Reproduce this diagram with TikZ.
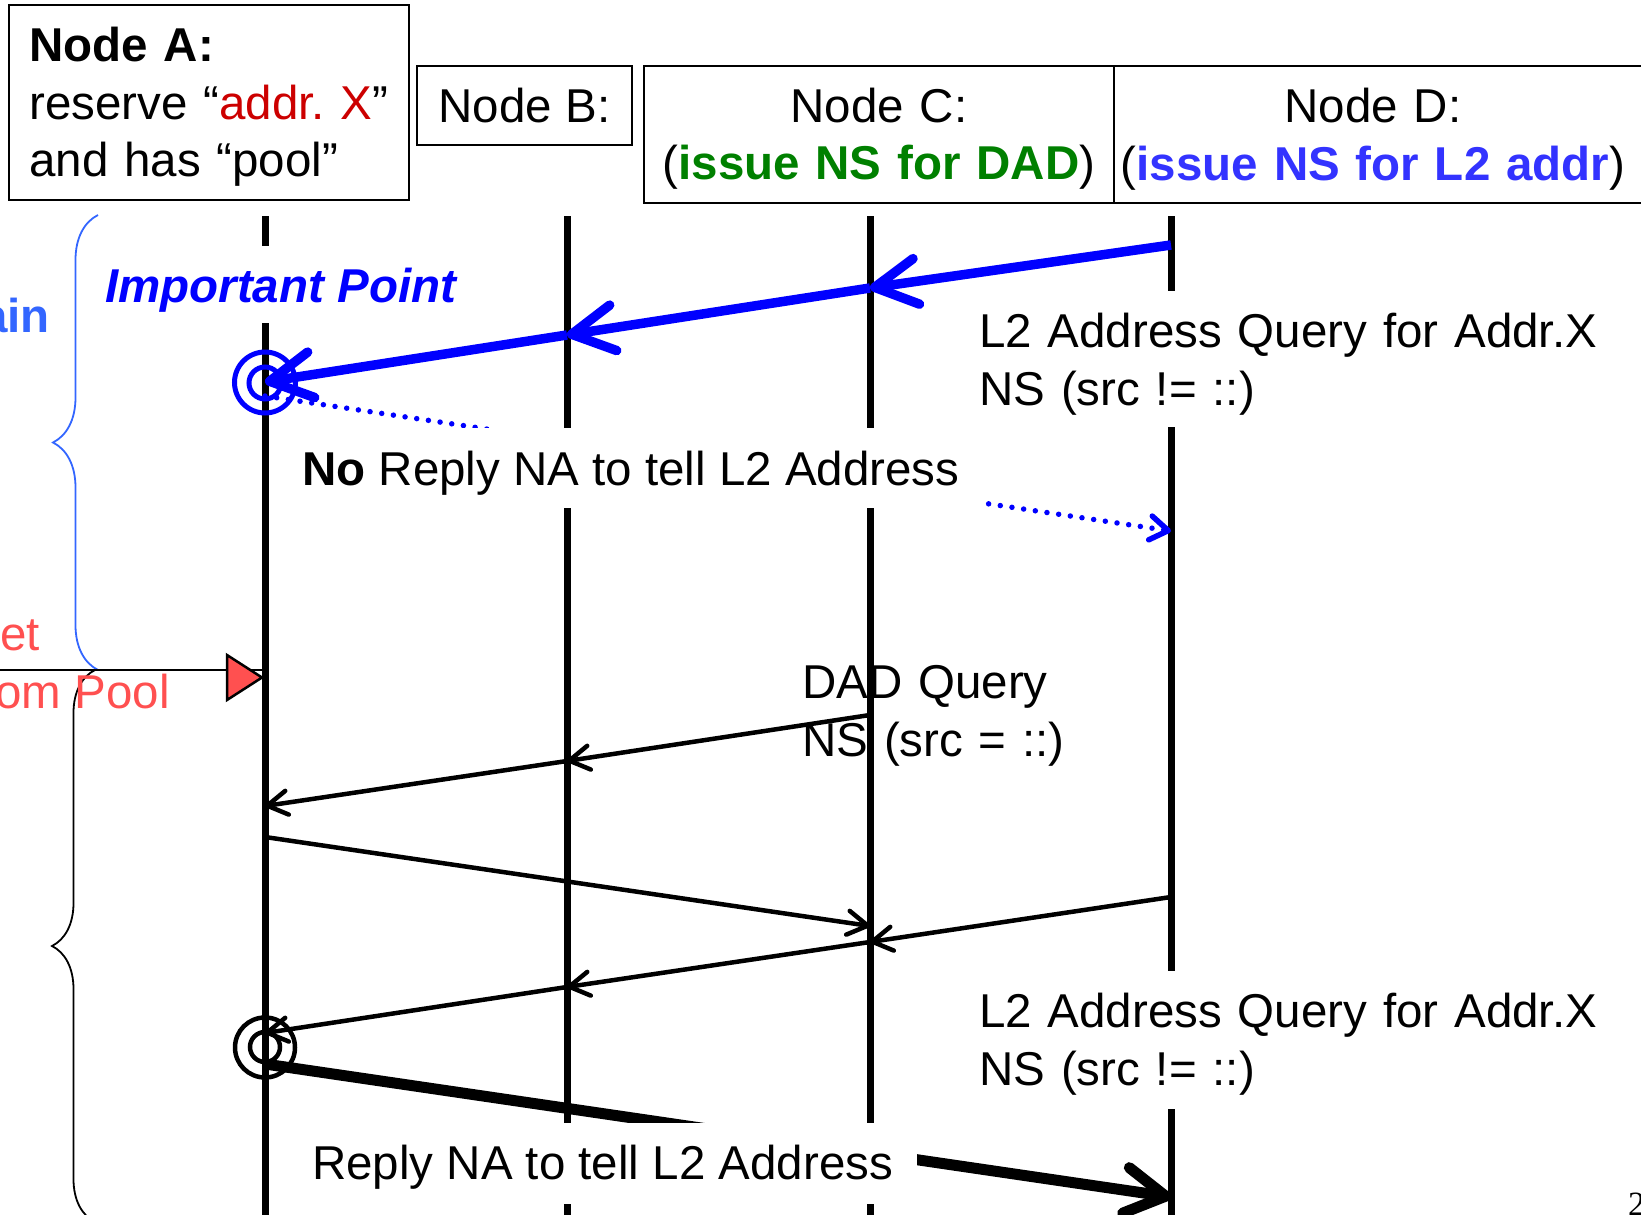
\documentclass[tikz,border=0pt]{standalone}
\usepackage{fontspec}
\setmainfont{Liberation Sans}
\newfontfamily\pagenumfont{Liberation Serif}
\usetikzlibrary{arrows.meta,decorations.pathreplacing}
\frenchspacing

\definecolor{pureblue}{RGB}{0,0,255}
\definecolor{braceblue}{RGB}{51,102,255}
\definecolor{l2blue}{RGB}{51,51,255}
\definecolor{dadgreen}{RGB}{0,128,0}
\definecolor{addrred}{RGB}{204,0,0}
\definecolor{poolred}{RGB}{255,80,80}

\begin{document}
\begin{tikzpicture}[x=1pt,y=-1pt,
  big/.style={font=\fontsize{47.5pt}{57.5pt}\selectfont},
  txt/.style={big, inner sep=0pt},
  twoline/.style={txt, font=\fontsize{47.5pt}{58pt}\selectfont, text width=640pt, align=left},
  mask/.style={txt, fill=white, inner ysep=0pt},
  hdrbox/.style={draw, line width=2pt, inner sep=0pt},
  lifeline/.style={line width=7pt},
  bluemsg/.style={pureblue, line width=9.5pt, -{Straight Barb[length=42pt,width=46pt,round]}},
  msg/.style={line width=4.5pt, -{Straight Barb[length=20pt,width=24pt,round]}},
  replymsg/.style={line width=11pt, -{Straight Barb[length=40pt,width=46pt,round]}},
  dotmsg/.style={pureblue, line width=5.5pt, line cap=round, dash pattern=on 0pt off 11.8pt,
                 -{Straight Barb[length=18pt,width=24pt,round]}},
  ring/.style={circle, draw, inner sep=0pt, minimum size=#1},
  curly/.style={decorate, decoration={brace, amplitude=#1}},
]
\useasboundingbox (0,0) rectangle (1641,1215);

% ---------- header boxes ----------
\node[hdrbox, minimum width=400pt, minimum height=195pt, anchor=north west] (boxA) at (8,4) {};
\node[txt, anchor=base west, text width=380pt, align=left] (txtA) at (29,62)
  {\textbf{Node A:}\\reserve “\textcolor{addrred}{addr. X}”\\and has “pool”};
\node[hdrbox, big, minimum width=215pt, minimum height=79pt, anchor=north west,
      text height=34pt, text depth=0pt] (nodeB) at (416,65) {Node B:};
\node[hdrbox, big, minimum width=470pt, minimum height=137pt, anchor=north west,
      text width=460pt, align=center, text height=38pt, text depth=63pt] (nodeC) at (643,65)
  {Node C:\\(\textcolor{dadgreen}{\textbf{issue NS for DAD}})};
% the last box runs on past the right margin
\node[hdrbox, minimum width=560pt, minimum height=137pt, anchor=north west] (nodeD) at (1113,65) {};
\node[txt, anchor=base, text width=510pt, align=center] (txtD) at (1373,122.5)
  {Node D:\\(\textcolor{l2blue}{\textbf{issue NS for L2 addr}})};

% ---------- lifelines ----------
\coordinate (Atop) at (265,216);  \coordinate (Abot) at (265,1220);
\coordinate (Btop) at (567,216);  \coordinate (Bbot) at (567,1220);
\coordinate (Ctop) at (870,216);  \coordinate (Cbot) at (870,1220);
\coordinate (Dtop) at (1171,216); \coordinate (Dbot) at (1171,1220);
\draw[lifeline] (Atop) -- (Abot);
\draw[lifeline] (Btop) -- (Bbot);
\draw[lifeline] (Ctop) -- (Cbot);
\draw[lifeline] (Dtop) -- (Dbot);

% ---------- left margin: braces and pool marker ----------
\draw[curly=45pt, braceblue, line width=1.8pt] (98,670) -- (98,215);
\draw[curly=43pt, line width=1.8pt] (95,1222) -- (95,670);
\node[txt, anchor=base east, font=\fontsize{47.5pt}{57.5pt}\selectfont\bfseries, text=braceblue] (ain) at (50,332) {ain};
\node[txt, anchor=base east, text=poolred] (getx) at (40,650) {et};
\node[txt, anchor=base east, text=poolred] (pool) at (170,708) {om Pool};
\coordinate (poolL) at (0,670);
\coordinate (poolA) at (265,670);
\draw[line width=1.8pt] (poolL) -- (poolA);
\filldraw[fill=poolred, draw=black, line width=2.5pt] (227,655) -- (262,677.5) -- (227,700) -- cycle;

% ---------- message points ----------
\coordinate (Dq) at (1171,245); \coordinate (Cq) at (870,288);
\coordinate (Bq) at (567,335);  \coordinate (Aq) at (265,382);
\coordinate (Anr) at (265,396); \coordinate (Dnr) at (1171,531);
\coordinate (C1) at (870,715);  \coordinate (B1) at (567,761);  \coordinate (A1) at (265,806);
\coordinate (A2) at (265,837);  \coordinate (C2) at (870,926);
\coordinate (D3) at (1171,897); \coordinate (C3) at (870,942);
\coordinate (B3) at (567,987);  \coordinate (A3) at (265,1033);
\coordinate (A4) at (265,1064); \coordinate (D4) at (1171,1197);

% ---------- rings on node A ----------
\node[ring=61pt, draw=pureblue, line width=5pt] (ringAo) at (265,382.5) {};
\node[ring=32pt, draw=pureblue, line width=5pt] (ringAi) at (265,383) {};
\node[ring=60pt, line width=4.5pt] (ringBo) at (265,1047.5) {};
\node[ring=30pt, line width=4.5pt] (ringBi) at (265,1047) {};

% ---------- messages ----------
\draw[bluemsg] (Dq) -- (Cq);
\draw[bluemsg] (Cq) -- (Bq);
\draw[bluemsg] (Bq) -- (Aq);
\draw[dotmsg] (Anr) -- (Dnr);

\draw[msg] (C1) -- (B1);
\draw[msg] (B1) -- (A1);
\draw[msg] (A2) -- (C2);
\draw[msg] (D3) -- (C3);
\draw[msg] (C3) -- (B3);
\draw[msg] (B3) -- (A3);
\draw[replymsg] (A4) -- (D4);

% ---------- labels ----------
\node[mask, font=\fontsize{47.5pt}{57.5pt}\selectfont\bfseries\itshape, text=pureblue,
      anchor=base west, inner xsep=6pt, text height=56pt, text depth=21pt] (imp) at (99,302)
  {Important Point};
\node[mask, twoline, anchor=base west, inner xsep=12pt, text height=56pt, text depth=80pt] (l2q1) at (967,347)
  {L2 Address Query for Addr.X\\NS (src != ::)};
\node[mask, anchor=base west, inner xsep=22pt, text height=57pt, text depth=23pt] (noreply) at (280,485)
  {\textbf{No} Reply NA to tell L2 Address};
\node[txt, twoline, anchor=base west, text width=320pt] (dadq) at (802,698)
  {DAD Query\\NS (src = ::)};
\node[mask, twoline, anchor=base west, inner xsep=12pt, text height=56pt, text depth=82pt] (l2q2) at (967,1027)
  {L2 Address Query for Addr.X\\NS (src != ::)};
\node[mask, anchor=base west, inner xsep=24pt, text height=56pt, text depth=25pt] (reply) at (288,1179)
  {Reply NA to tell L2 Address};

\node[inner sep=0pt, anchor=base west, font=\pagenumfont\fontsize{34pt}{40pt}\selectfont] (pagenum) at (1628,1215) {2};
\end{tikzpicture}
\end{document}
